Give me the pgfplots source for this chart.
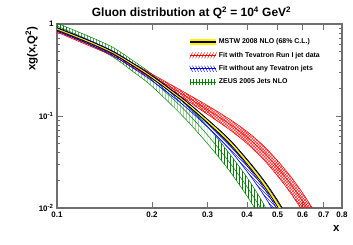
\documentclass[border=0pt]{standalone}
\usepackage{fontspec}
\setmainfont{Liberation Sans}
\usepackage{pgfplots}
\usepackage{pgfplotstable}
\pgfplotsset{compat=1.18}
\usepgfplotslibrary{fillbetween}
\usetikzlibrary{patterns}
\definecolor{rootgreen}{RGB}{0,128,0}
\definecolor{framegray}{RGB}{110,110,110}

\pgfplotstableread{
x c lo hi
0.1 0.88 0.854 0.906
0.125 0.65 0.631 0.669
0.15 0.49 0.475 0.505
0.175 0.357 0.346 0.368
0.2 0.265 0.257 0.273
0.25 0.150 0.145 0.155
0.3 0.088 0.0845 0.0915
0.35 0.054 0.0513 0.0567
0.4 0.032 0.0301 0.0339
0.45 0.0192 0.0179 0.0205
0.5 0.0112 0.0103 0.0121
0.55 0.0064 0.0058 0.0070
}\mstw

\pgfplotstableread{
x c lo hi
0.1 0.875 0.836 0.915
0.125 0.643 0.611 0.676
0.15 0.482 0.456 0.51
0.175 0.349 0.328 0.371
0.2 0.258 0.241 0.276
0.25 0.1443 0.1335 0.156
0.3 0.0832 0.0757 0.0915
0.35 0.0499 0.0443 0.0562
0.4 0.0289 0.025 0.0333
0.45 0.0169 0.0142 0.020
0.5 0.0096 0.0078 0.0117
0.55 0.0054 0.0043 0.0067
}\notev

\pgfplotstableread{
x c lo hi
0.1 0.84 0.815 0.865
0.125 0.61 0.589 0.631
0.15 0.47 0.451 0.489
0.175 0.352 0.334 0.370
0.2 0.27 0.254 0.286
0.25 0.172 0.158 0.186
0.3 0.117 0.104 0.130
0.35 0.083 0.0722 0.0938
0.4 0.059 0.0502 0.0679
0.45 0.041 0.034 0.048
0.5 0.0275 0.0223 0.0327
0.55 0.0183 0.0145 0.0221
0.6 0.0119 0.0092 0.0146
0.65 0.0076 0.0057 0.0095
0.7 0.0048 0.0035 0.0061
}\withtev

\pgfplotstableread{
x c lo hi
0.1 0.95 0.88 1.02
0.125 0.68 0.61 0.745
0.15 0.50 0.44 0.56
0.175 0.346 0.30 0.395
0.2 0.245 0.21 0.285
0.25 0.122 0.10 0.148
0.3 0.062 0.05 0.077
0.35 0.0322 0.026 0.040
0.4 0.017 0.0135 0.0215
0.45 0.0089 0.007 0.0113
0.5 0.0043 0.0033 0.0055
}\zeus

\begin{document}
\begin{tikzpicture}
\begin{axis}[
  scale only axis, width=285bp, height=184bp,
  xmode=log, ymode=log,
  xmin=0.1, xmax=0.8, ymin=0.01, ymax=1,
  xtick={0.1,0.2,0.3,0.4,0.5,0.6,0.7,0.8},
  xticklabels={0.1,0.2,0.3,0.4,0.5,0.6,0.7,0.8},
  xminorticks=false,
  ytick={0.01,0.1,1},
  yticklabels={{10\textsuperscript{-2}},{10\textsuperscript{-1}},1},
  minor ytick={0.02,0.03,0.04,0.05,0.06,0.07,0.08,0.09,0.2,0.3,0.4,0.5,0.6,0.7,0.8,0.9},
  ticklabel style={font=\bfseries\fontsize{8}{9}\selectfont},
  axis line style={framegray, line width=1.2bp},
  every tick/.style={framegray, line width=0.8bp},
  major tick length=6bp, minor tick length=3bp,
  legend style={draw=none, fill=none, at={(axis description cs:0.452,0.943)}, anchor=north west,
    font=\bfseries\fontsize{7}{8}\selectfont, row sep=2.9bp},
  legend cell align=left,
]
\addlegendimage{legend image code/.code={
  \path[fill=yellow, draw=none] (0bp,-3bp) rectangle (26bp,3bp);
  \draw[black, line width=1.2bp] (0bp,0bp)--(26bp,0bp);}}
\addlegendentry{MSTW 2008 NLO (68\% C.L.)}
\addlegendimage{legend image code/.code={
  \draw[red, line width=0.5bp] foreach \i in {0,3,...,24} {(\i bp,-3bp) -- ++(3bp,6bp)};
  \draw[red, line width=0.8bp] (0bp,0bp)--(26bp,0bp);}}
\addlegendentry{Fit with Tevatron Run I jet data}
\addlegendimage{legend image code/.code={
  \draw[blue, line width=0.5bp] foreach \i in {0,3,...,24} {(\i bp,3bp) -- ++(3bp,-6bp)};
  \draw[blue, line width=0.8bp] (0bp,0bp)--(26bp,0bp);}}
\addlegendentry{Fit without any Tevatron jets}
\addlegendimage{legend image code/.code={
  \draw[rootgreen, line width=0.5bp] foreach \i in {1,4,...,25} {(\i bp,-3bp) -- ++(0bp,6bp)};
  \draw[rootgreen, line width=0.8bp] (0bp,0bp)--(26bp,0bp);}}
\addlegendentry{ZEUS 2005 Jets NLO}

% ZEUS
\addplot[forget plot, name path=gU, rootgreen, line width=0.5bp, smooth] table[x=x,y=hi]{\zeus};
\addplot[forget plot, name path=gL, rootgreen, line width=0.5bp, smooth] table[x=x,y=lo]{\zeus};
\addplot[forget plot, pattern=vertical lines, pattern color=rootgreen] fill between[of=gU and gL];
\addplot[forget plot, rootgreen, line width=0.5bp, smooth] table[x=x,y=c]{\zeus};
% with Tevatron
\addplot[forget plot, name path=rU, red, line width=0.5bp, smooth] table[x=x,y=hi]{\withtev};
\addplot[forget plot, name path=rL, red, line width=0.5bp, smooth] table[x=x,y=lo]{\withtev};
\addplot[forget plot, pattern=north east lines, pattern color=red] fill between[of=rU and rL];
\addplot[forget plot, pattern=north west lines, pattern color=red] fill between[of=rU and rL];
\addplot[forget plot, red, line width=0.5bp, smooth] table[x=x,y=c]{\withtev};
% without Tevatron
\addplot[forget plot, name path=bU, blue, line width=0.6bp, smooth] table[x=x,y=hi]{\notev};
\addplot[forget plot, name path=bL, blue, line width=0.6bp, smooth] table[x=x,y=lo]{\notev};
\addplot[forget plot, pattern=north west lines, pattern color=blue] fill between[of=bU and bL];
\addplot[forget plot, blue, line width=0.6bp, smooth] table[x=x,y=c]{\notev};
% MSTW
\addplot[forget plot, name path=mU, black, line width=0.7bp, smooth] table[x=x,y=hi]{\mstw};
\addplot[forget plot, name path=mL, black, line width=0.7bp, smooth] table[x=x,y=lo]{\mstw};
\addplot[forget plot, fill=yellow] fill between[of=mU and mL];
\addplot[forget plot, yellow, line width=0.6bp, smooth] table[x=x,y=c]{\mstw};
\end{axis}
\node[font=\bfseries\fontsize{12}{14}\selectfont] at (134.5bp,195bp) {Gluon distribution at Q\textsuperscript{2} = 10\textsuperscript{4} GeV\textsuperscript{2}};
\node[font=\bfseries\fontsize{11.5}{13}\selectfont, rotate=90, anchor=north east] at (-35bp,185bp) {xg(x,Q\textsuperscript{2})};
\node[font=\bfseries\fontsize{11.5}{13}\selectfont, anchor=north east] at (286bp,-14bp) {x};
\pgfresetboundingbox
\path[use as bounding box] (-57bp,-37bp) rectangle (296bp,208bp);
\end{tikzpicture}
\end{document}
